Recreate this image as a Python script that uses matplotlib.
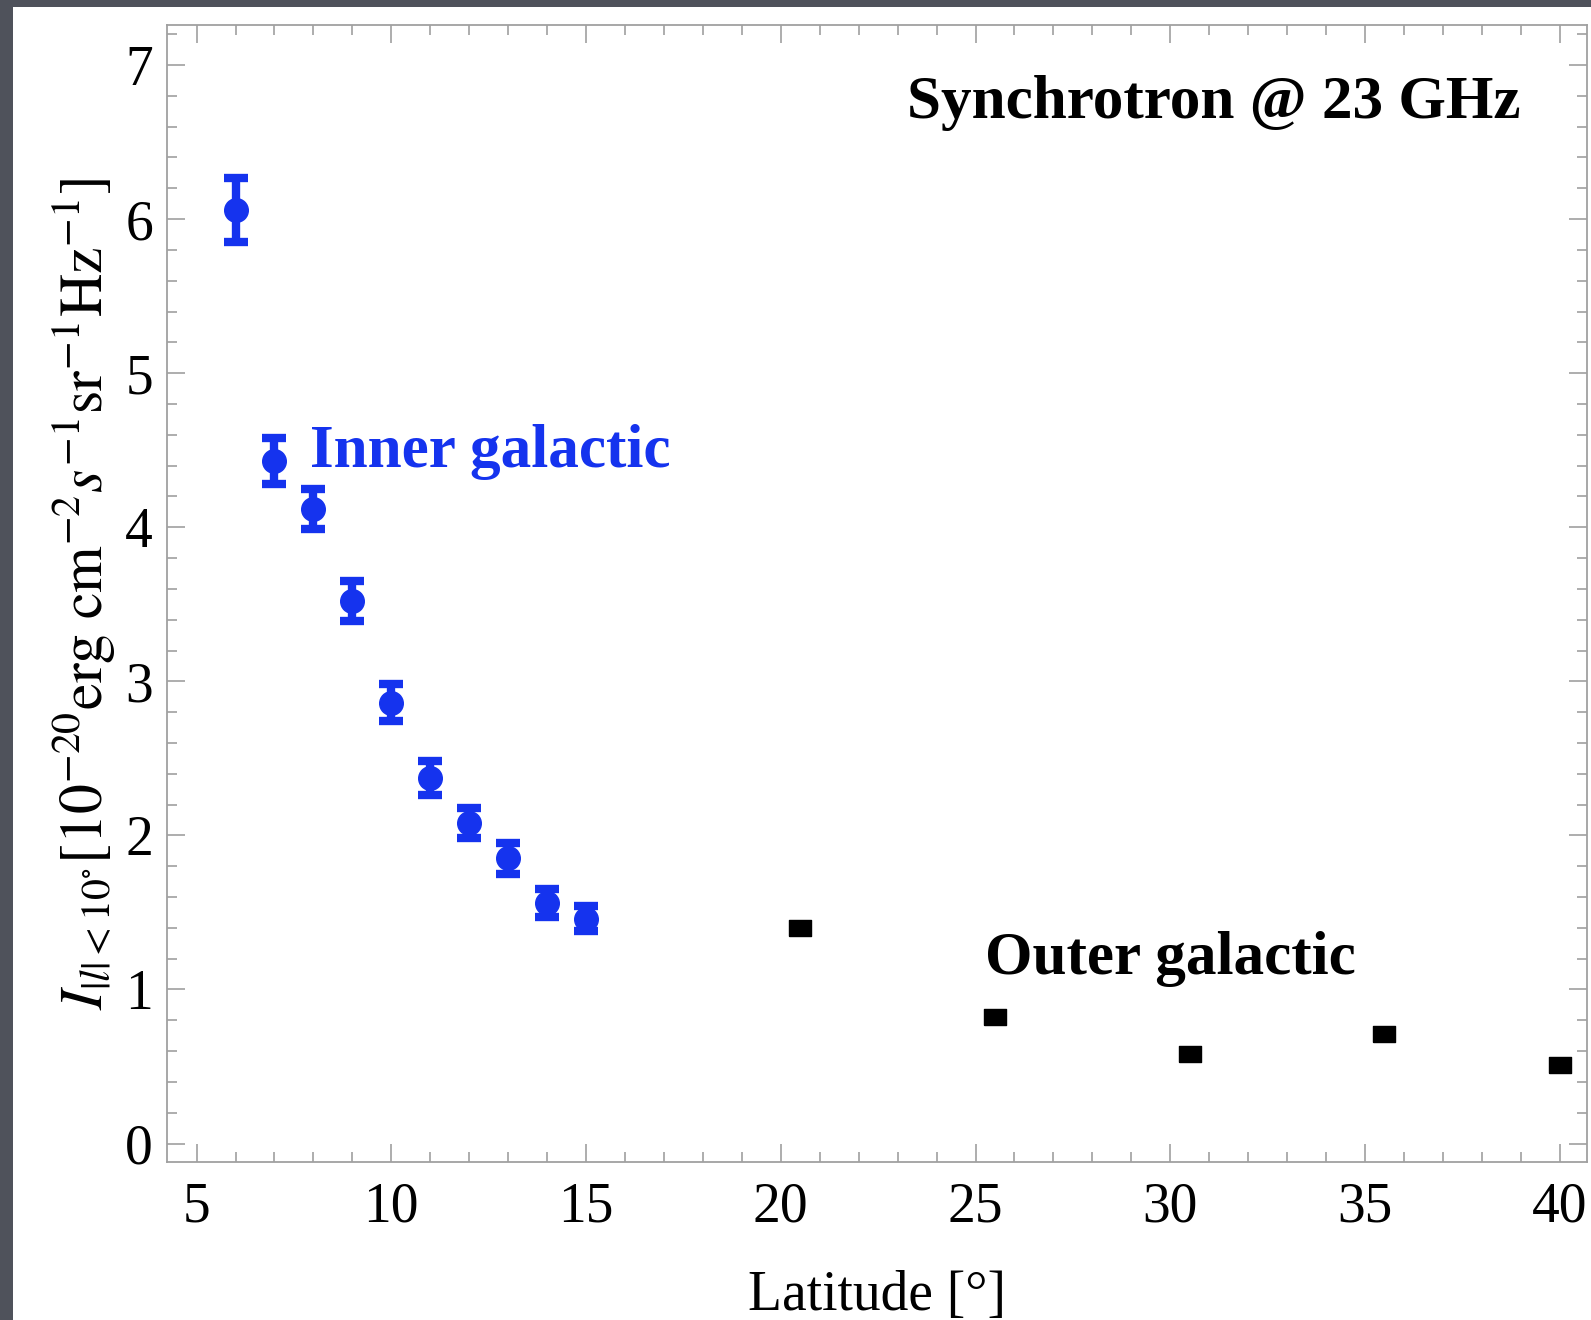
import numpy as np
import matplotlib
matplotlib.use('Agg')
import matplotlib.pyplot as plt
from matplotlib.patches import Rectangle
from matplotlib.ticker import MultipleLocator


# Inner galactic points (blue, with error bars)
inner_lat = [6, 7, 8, 9, 10, 11, 12, 13, 14, 15]
inner_val = [6.06, 4.43, 4.12, 3.52, 2.86, 2.37, 2.08, 1.85, 1.56, 1.46]
inner_err = [0.21, 0.15, 0.13, 0.13, 0.12, 0.11, 0.10, 0.10, 0.09, 0.08]

# Outer galactic points (black squares)
outer_lat = [20.5, 25.5, 30.5, 35.5, 40.0]
outer_val = [1.40, 0.82, 0.58, 0.71, 0.51]

x_ticks = [5, 10, 15, 20, 25, 30, 35, 40]
y_ticks = [0, 1, 2, 3, 4, 5, 6, 7]

BLUE = '#1533ee'
FRAME = '#a0a0a0'

plt.rcParams['font.family'] = ['Liberation Serif', 'DejaVu Serif']
plt.rcParams['mathtext.fontset'] = 'stix'

fig = plt.figure(figsize=(15.91, 13.2), dpi=100)
fig.patch.set_facecolor('#4f525b')
# white slide panel behind the axes
panel = Rectangle((13 / 1591, 0), 1, 1 - 7 / 1320, transform=fig.transFigure,
                  facecolor='white', edgecolor='none', zorder=-5)
fig.add_artist(panel)

ax = fig.add_axes([167 / 1591, 1 - 1162 / 1320, (1587 - 167) / 1591, (1162 - 25) / 1320])
ax.set_facecolor('white')

ax.errorbar(inner_lat, inner_val, yerr=inner_err, fmt='o', color=BLUE, ms=17,
            elinewidth=6, capsize=8.5, capthick=6, zorder=3)

# wide rectangular marker
rect = [(-1, -0.75), (1, -0.75), (1, 0.75), (-1, 0.75), (-1, -0.75)]
ax.plot(outer_lat, outer_val, linestyle='none', marker=rect, ms=16, color='black', zorder=3)

ax.set_xlim(4.24, 40.7)
ax.set_ylim(-0.12, 7.26)
ax.set_xticks(x_ticks)
ax.set_yticks(y_ticks)
ax.xaxis.set_minor_locator(MultipleLocator(1))
ax.yaxis.set_minor_locator(MultipleLocator(0.2))

for s in ax.spines.values():
    s.set_color(FRAME)
    s.set_linewidth(1.3)
ax.tick_params(which='both', direction='in', top=True, right=True, color=FRAME, width=1.2)
ax.tick_params(which='major', length=13, labelsize=40, pad=10)
ax.tick_params(which='minor', length=7)
ax.tick_params(axis='x', which='major', pad=14)

ax.set_xlabel('Latitude [°]', fontsize=40, labelpad=26)
ax.set_ylabel(r'$I_{|l|<10^{\circ}}[10^{-20}\mathrm{erg\ cm}^{-2}s^{-1}\mathrm{sr}^{-1}\mathrm{Hz}^{-1}]$',
              fontsize=43, labelpad=6)

ax.text(0.953, 0.931, 'Synchrotron @ 23 GHz', transform=ax.transAxes, ha='right', va='center',
        fontsize=44, fontweight='bold', color='black')
ax.text(7.9, 4.49, 'Inner galactic', ha='left', va='center', fontsize=44, fontweight='bold', color=BLUE)
ax.text(25.25, 1.2, 'Outer galactic', ha='left', va='center', fontsize=44, fontweight='bold', color='black')

fig.savefig('out.png', dpi=100, facecolor=fig.get_facecolor())
